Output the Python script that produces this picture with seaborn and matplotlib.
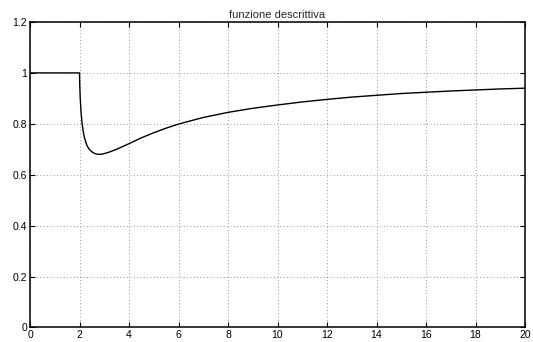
import matplotlib
matplotlib.use("Agg")
import matplotlib.pyplot as plt
import seaborn as sns
import pandas as pd

# values
amp = [0, 1.0, 2.0, 2.01, 2.03, 2.06, 2.1, 2.15, 2.2, 2.3, 2.4, 2.5, 2.6, 2.7, 2.8, 2.9,
       3.0, 3.2, 3.5, 4.0, 4.5, 5.0, 5.5, 6.0, 7.0, 8.0, 9.0, 10.0, 11.0, 12.0, 13.0,
       14.0, 15.0, 16.0, 17.0, 18.0, 19.0, 20.0]
gain = [1.0, 1.0, 1.0, 0.95, 0.90, 0.85, 0.805, 0.77, 0.745, 0.715, 0.699, 0.690, 0.684,
        0.681, 0.680, 0.681, 0.683, 0.689, 0.700, 0.722, 0.745, 0.765, 0.783, 0.799,
        0.825, 0.845, 0.861, 0.874, 0.886, 0.896, 0.905, 0.912, 0.919, 0.924, 0.929,
        0.933, 0.937, 0.940]
x_ticks = [0, 2, 4, 6, 8, 10, 12, 14, 16, 18, 20]
x_labels = ["0", "2", "4", "6", "8", "10", "12", "14", "16", "18", "20"]
y_ticks = [0, 0.2, 0.4, 0.6, 0.8, 1.0, 1.2]
y_labels = ["0", "0.2", "0.4", "0.6", "0.8", "1", "1.2"]
title = "funzione descrittiva"

sns.set_style("white")
plt.rcParams['font.family'] = ['Liberation Sans', 'DejaVu Sans']

df = pd.DataFrame({"A": amp, "N": gain})

fig = plt.figure(figsize=(5.33, 3.42), dpi=100)
ax = fig.add_axes([0.0563, 0.0424, 0.9287, 0.8933])
sns.lineplot(data=df, x="A", y="N", ax=ax, color="black", linewidth=1.0,
             sort=False, estimator=None)

ax.set_xlim(0, 20)
ax.set_ylim(0, 1.2)
ax.set_xticks(x_ticks)
ax.set_xticklabels(x_labels)
ax.set_yticks(y_ticks)
ax.set_yticklabels(y_labels)
ax.set_xlabel("")
ax.set_ylabel("")
ax.set_title(title, fontsize=8, pad=3)

ax.grid(True, linestyle=(0, (1, 3)), color="#777777", linewidth=0.6)
ax.tick_params(direction="in", length=3.5, width=0.8, labelsize=7.5,
               top=True, right=True, bottom=True, left=True, pad=2, colors="black")
for s in ax.spines.values():
    s.set_visible(True)
    s.set_color("black")
    s.set_linewidth(1.1)

fig.savefig("out.png", dpi=100)
